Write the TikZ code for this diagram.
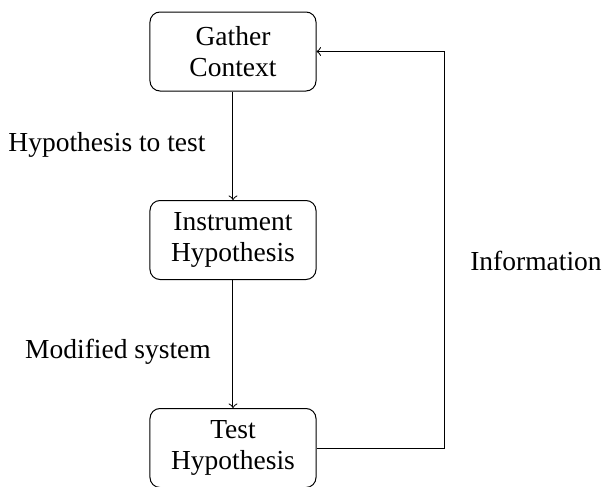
\documentclass[tikz,border=0pt]{standalone}
\usepackage{fontspec}
\setmainfont{Liberation Serif}
\begin{document}
\begin{tikzpicture}[x=0.4pt,y=-0.4pt,
  stepbox/.style={draw, rounded corners=4pt, minimum width=66.4pt, minimum height=31.6pt, align=center, inner sep=0pt, font=\fontsize{11}{12.5}\selectfont},
  lbl/.style={font=\fontsize{11}{13}\selectfont, inner sep=0pt},
  conn/.style={->, line width=0.4pt}]
\useasboundingbox (0,0) rectangle (602,487);
\node[stepbox] (gather) at (233,51.5) {Gather\\Context};
\node[stepbox] (instr) at (233,240) {Instrument\\Hypothesis};
\node[stepbox] (test) at (233,448) {Test\\Hypothesis};
\coordinate (c1) at (445,448);
\coordinate (c2) at (445,51.5);
\draw[conn] (gather) -- (instr);
\draw[conn] (instr) -- (test);
\draw[conn] (test.east) -- (c1) -- (c2) -- (gather.east);
\node[lbl] (l1) at (107,145) {Hypothesis to test};
\node[lbl] (l2) at (118,352) {Modified system};
\node[lbl] (l3) at (536,261) {Information};
\end{tikzpicture}
\end{document}
